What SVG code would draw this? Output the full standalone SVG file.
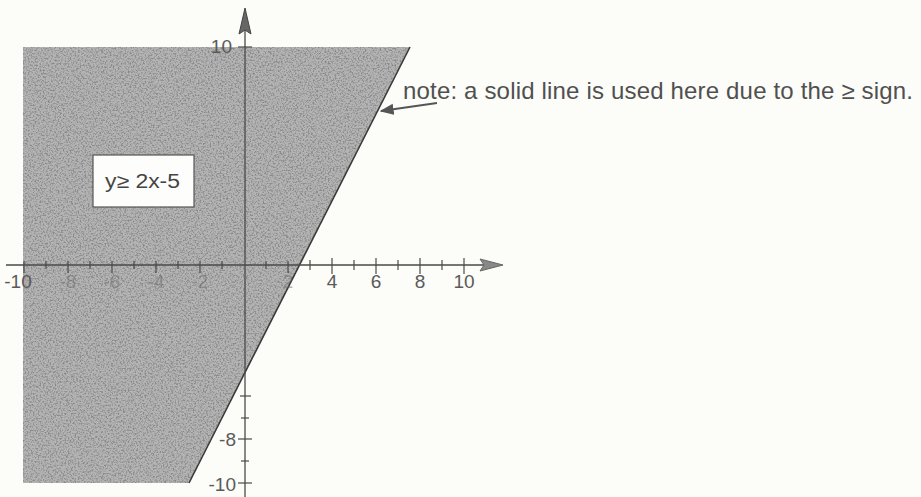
<svg xmlns="http://www.w3.org/2000/svg" width="921" height="497" viewBox="0 0 921 497">
<style>
.ax{stroke:#4a4a4a;stroke-width:1.3;fill:none}
.tk{stroke:#4a4a4a;stroke-width:1.2}
.lbl{font-family:"Liberation Sans",Arial,sans-serif;font-size:19px;fill:#5a5a5a}
.faint{font-family:"Liberation Sans",Arial,sans-serif;font-size:19px;fill:#666;opacity:0.5}
.note{font-family:"Liberation Sans",Arial,sans-serif;font-size:24px;fill:#505050}
</style>
<defs>
<filter id="grain" x="0" y="0" width="100%" height="100%">
<feTurbulence type="fractalNoise" baseFrequency="0.6" numOctaves="2" seed="7" result="t"/>
<feColorMatrix in="t" type="matrix" values="0 0 0 0 0.25  0 0 0 0 0.25  0 0 0 0 0.25  3.5 0 0 0 -1.55" result="dark"/>
<feComposite in="dark" in2="SourceGraphic" operator="in"/>
</filter>
<marker id="ah" viewBox="0 0 10 10" refX="9" refY="5" markerWidth="7" markerHeight="7" orient="auto">
<path d="M0,1 L10,5 L0,9 Z" fill="#555"/>
</marker>
</defs>
<rect width="921" height="497" fill="#fcfcf8"/>
<g id="shade">
<polygon points="23,47 410,47 189,483 23,483" fill="#b4b4b4"/>
<polygon points="23,47 410,47 189,483 23,483" fill="#b4b4b4" filter="url(#grain)"/>
<line x1="410" y1="47" x2="189" y2="483" stroke="#3a3a3a" stroke-width="1.6"/>
</g>
<g id="axes">
<line class="ax" x1="245" y1="28" x2="245" y2="497"/>
<path d="M245,8 L239,34 L245,30 L251,34 Z" fill="#666" stroke="#444" stroke-width="1"/>
<line class="ax" x1="6" y1="265" x2="485" y2="265"/>
<path d="M503,265 L480,259 L484,265 L480,271 Z" fill="#888" stroke="#666" stroke-width="1"/>
<g class="tk">
<line x1="24" y1="261" x2="24" y2="273"/><line x1="46" y1="261" x2="46" y2="269"/>
<line x1="68" y1="261" x2="68" y2="273"/><line x1="90" y1="261" x2="90" y2="269"/>
<line x1="112" y1="261" x2="112" y2="273"/><line x1="134" y1="261" x2="134" y2="269"/>
<line x1="156" y1="261" x2="156" y2="273"/><line x1="178" y1="261" x2="178" y2="269"/>
<line x1="200" y1="261" x2="200" y2="273"/><line x1="222" y1="261" x2="222" y2="269"/>
<line x1="266" y1="261" x2="266" y2="269"/><line x1="288" y1="261" x2="288" y2="273"/>
<line x1="310" y1="260" x2="310" y2="270"/><line x1="332" y1="258" x2="332" y2="274"/>
<line x1="354" y1="260" x2="354" y2="270"/><line x1="376" y1="258" x2="376" y2="274"/>
<line x1="398" y1="260" x2="398" y2="270"/><line x1="420" y1="258" x2="420" y2="274"/>
<line x1="442" y1="260" x2="442" y2="270"/><line x1="464" y1="258" x2="464" y2="274"/>
<line x1="240" y1="396" x2="251" y2="396"/><line x1="241" y1="418" x2="249" y2="418"/>
<line x1="238" y1="439" x2="252" y2="439"/><line x1="241" y1="461" x2="249" y2="461"/>
<line x1="238" y1="483" x2="252" y2="483"/>
<line x1="238" y1="47" x2="252" y2="47"/>
</g>
<text class="lbl" x="18" y="288" text-anchor="middle">-10</text>
<text class="faint" x="68" y="288" text-anchor="middle">-8</text>
<text class="faint" x="112" y="288" text-anchor="middle">-6</text>
<text class="faint" x="156" y="288" text-anchor="middle">-4</text>
<text class="faint" x="200" y="288" text-anchor="middle">-2</text>
<text class="faint" x="288" y="288" text-anchor="middle">2</text>
<text class="lbl" x="332" y="288" text-anchor="middle">4</text>
<text class="lbl" x="376" y="288" text-anchor="middle">6</text>
<text class="lbl" x="420" y="288" text-anchor="middle">8</text>
<text class="lbl" x="464" y="288" text-anchor="middle">10</text>
<text class="lbl" x="232" y="53" text-anchor="end">10</text>
<text class="lbl" x="236" y="446" text-anchor="end">-8</text>
<text class="lbl" x="236" y="491" text-anchor="end">-10</text>
</g>
<g id="label-box">
<rect x="93" y="155" width="101" height="52" fill="#fdfdfb" stroke="#555" stroke-width="1.2"/>
<text x="105" y="188" font-family="Liberation Sans, Arial, sans-serif" font-size="20" fill="#444" textLength="75" lengthAdjust="spacingAndGlyphs">y≥ 2x-5</text>
</g>
<g id="note">
<text class="note" x="403" y="99" textLength="510">note: a solid line is used here due to the ≥ sign.</text>
</g>
<g id="connectors">
<line x1="437" y1="103" x2="381" y2="111" stroke="#555" stroke-width="2" marker-end="url(#ah)"/>
</g>
</svg>
